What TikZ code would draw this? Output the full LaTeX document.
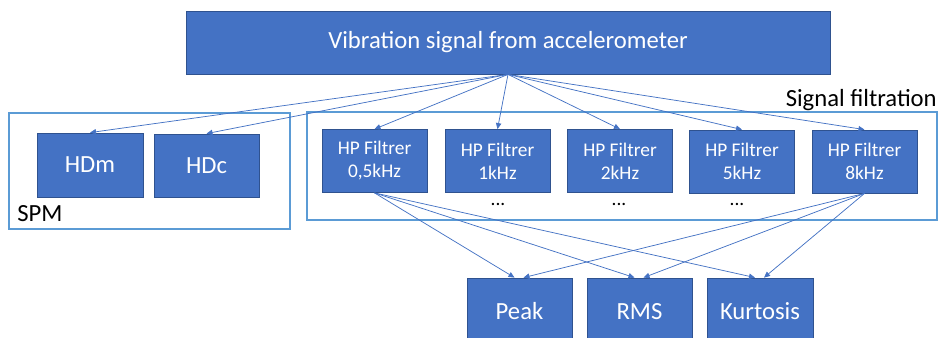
\documentclass[tikz,border=0pt]{standalone}
\usepackage{fontspec}
\setmainfont{Carlito}
\usetikzlibrary{arrows.meta,calc}
\definecolor{boxfill}{HTML}{4472C4}
\definecolor{boxline}{HTML}{2F528F}
\definecolor{framecol}{HTML}{5B9BD5}
\definecolor{linkcol}{HTML}{4472C4}
\begin{document}
\begin{tikzpicture}[x=0.75pt,y=-0.75pt,
  bluebox/.style={draw=boxline, line width=0.6pt, fill=boxfill, text=white, inner sep=0pt, font=\fontsize{18.5}{22}\selectfont},
  filterbox/.style={bluebox, align=center, font=\fontsize{14.5}{17.25}\selectfont, minimum width=78.75pt, minimum height=47.25pt},
  groupframe/.style={draw=framecol, line width=1.1pt, inner sep=0pt},
  link/.style={draw=linkcol, line width=0.55pt, -{Triangle[length=4.5pt,width=4pt]}},
  label/.style={inner sep=0pt, text=black, font=\fontsize{18.5}{22}\selectfont},
  dots/.style={inner sep=0pt, text=black, font=\fontsize{14.5}{17}\selectfont}]
\clip (0,0) rectangle (941,338);
\fill[white] (0,0) rectangle (941,338);
% frames
\node[groupframe, minimum width=210.75pt, minimum height=87pt] (spm) at (149.5,171) {};
\node[groupframe, minimum width=472.5pt, minimum height=81pt] (sf) at (622,166) {};
\node[label, anchor=base west] (spmlabel) at (17,221) {SPM};
\node[label, anchor=base east] (sflabel) at (937,107) {Signal filtration};
% top
\node[bluebox, minimum width=483pt, minimum height=47.25pt] (top) at (508,42.5) {Vibration signal from accelerometer};
% SPM boxes
\node[bluebox, minimum width=79.5pt, minimum height=48pt] (hdm) at (90,165) {HDm};
\node[bluebox, minimum width=78.75pt, minimum height=47.25pt] (hdc) at (206.5,165.5) {HDc};
% filters
\node[filterbox] (f1) at (374.5,161) {HP Filtrer\\0,5kHz};
\node[filterbox] (f2) at (497.5,161) {HP Filtrer\\1kHz};
\node[filterbox] (f3) at (620,161) {HP Filtrer\\2kHz};
\node[filterbox] (f4) at (742,161.5) {HP Filtrer\\5kHz};
\node[filterbox] (f5) at (864.5,161.5) {HP Filtrer\\8kHz};
\node[dots, anchor=base] (d2) at (498,205) {...};
\node[dots, anchor=base] (d3) at (619,205) {...};
\node[dots, anchor=base] (d4) at (737,205) {...};
% outputs
\node[bluebox, minimum width=78.75pt, minimum height=50.25pt] (peak) at (519.5,311.5) {Peak};
\node[bluebox, minimum width=78.75pt, minimum height=50.25pt] (rms) at (639.5,311.5) {RMS};
\node[bluebox, minimum width=79.5pt, minimum height=50.25pt] (kurt) at (760,311.5) {Kurtosis};
% connectors from top
\foreach \t in {hdm,hdc,f1,f2,f3,f4,f5}
  \draw[link] (top.south) -- (\t.north);
% connectors to outputs
\foreach \t in {peak,rms,kurt} {
  \draw[link] (f1.south) -- ($(\t.north)+(-5,0)$);
  \draw[link] (f5.south) -- ($(\t.north)+(4,0)$);
}
\end{tikzpicture}
\end{document}
